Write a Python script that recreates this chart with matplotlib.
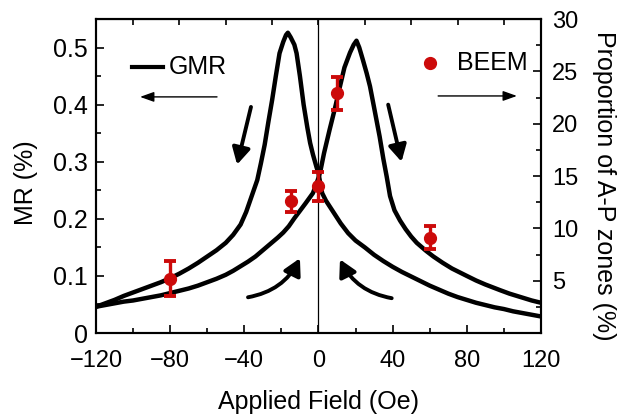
import matplotlib
matplotlib.use('Agg')
import matplotlib.pyplot as plt
from matplotlib.ticker import MultipleLocator, FixedLocator

plt.rcParams['font.family'] = ['Liberation Sans', 'DejaVu Sans']

# ---------------- data ----------------
# GMR, field swept from +120 to -120 Oe (peak at negative field)
field_down = [-120, -115, -110, -105, -100, -95, -90, -85, -80, -75, -70, -65, -60,
              -55, -50, -46, -42, -39, -36, -33, -31, -29, -27, -25, -23, -21, -19,
              -17.5, -16.5, -15, -13, -11.8, -10, -8, -6, -4.5, -3, -1, 0, 1, 2, 4,
              6, 9, 12, 16, 20, 25, 30, 35, 40, 45, 50, 55, 60, 65, 70, 75, 80, 85,
              90, 95, 100, 105, 110, 115, 120]
mr_down = [0.046, 0.052, 0.058, 0.065, 0.071, 0.077, 0.083, 0.089, 0.096, 0.104,
           0.113, 0.123, 0.134, 0.145, 0.158, 0.172, 0.190, 0.212, 0.240, 0.268,
           0.298, 0.330, 0.370, 0.408, 0.450, 0.490, 0.510, 0.522, 0.526, 0.518,
           0.505, 0.490, 0.450, 0.400, 0.360, 0.333, 0.313, 0.290, 0.280, 0.262,
           0.245, 0.232, 0.222, 0.207, 0.192, 0.175, 0.162, 0.150, 0.137, 0.126,
           0.116, 0.107, 0.099, 0.091, 0.083, 0.076, 0.069, 0.063, 0.058, 0.053,
           0.049, 0.045, 0.042, 0.038, 0.035, 0.032, 0.029]

# GMR, field swept from -120 to +120 Oe (peak at positive field)
field_up = [-120, -115, -110, -105, -100, -95, -90, -85, -80, -75, -70, -65, -60,
            -55, -50, -46, -42, -38, -34, -30, -26, -22, -19, -16, -13, -10, -7, -5,
            -3, -1, 0, 1, 3, 6, 9, 11.6, 14, 17, 19, 20.5, 22, 24, 26, 27.8, 30, 33,
            35, 36.8, 38.6, 41, 44, 47, 50, 53, 58, 62, 67, 72, 80, 85, 90, 98, 103,
            110, 115, 120]
mr_up = [0.046, 0.049, 0.052, 0.055, 0.057, 0.060, 0.063, 0.066, 0.070, 0.074,
         0.078, 0.083, 0.089, 0.095, 0.102, 0.109, 0.117, 0.125, 0.134, 0.145,
         0.156, 0.167, 0.176, 0.187, 0.201, 0.214, 0.227, 0.236, 0.245, 0.262,
         0.272, 0.283, 0.315, 0.356, 0.395, 0.432, 0.465, 0.491, 0.505, 0.512,
         0.500, 0.478, 0.455, 0.432, 0.395, 0.344, 0.305, 0.274, 0.240, 0.215,
         0.197, 0.182, 0.169, 0.158, 0.144, 0.134, 0.123, 0.113, 0.100, 0.092,
         0.085, 0.075, 0.069, 0.062, 0.057, 0.053]

# BEEM: proportion of A-P zones (%)
beem_field = [-80, -15, 0, 10, 60]
beem_prop = [5.2, 12.6, 14.0, 22.9, 9.1]
beem_err = [1.7, 1.0, 1.4, 1.6, 1.1]

x_ticks = [-120, -80, -40, 0, 40, 80, 120]
x_tick_labels = ['\u2212120', '\u221280', '\u221240', '0', '40', '80', '120']
top_ticks = [-100, -75, -50, -25, 0, 25, 50, 75, 100]
mr_ticks = [0, 0.1, 0.2, 0.3, 0.4, 0.5]
mr_tick_labels = ['0', '0.1', '0.2', '0.3', '0.4', '0.5']
prop_ticks = [5, 10, 15, 20, 25, 30]
prop_tick_labels = ['5', '10', '15', '20', '25', '30']

RED = '#cc0a0a'

# ---------------- figure ----------------
fig = plt.figure(figsize=(6.2, 4.18), dpi=100)
ax = fig.add_axes([0.1548, 0.2033, 0.7177, 0.7512])
ax.set_xlim(-120, 120)
ax.set_ylim(0, 0.55)

ax.axvline(0, color='black', lw=0.9, zorder=1)
ax.plot(field_down, mr_down, color='black', lw=3.2, zorder=3, solid_joinstyle='round')
ax.plot(field_up, mr_up, color='black', lw=3.2, zorder=3, solid_joinstyle='round')

ax.xaxis.set_major_locator(FixedLocator(x_ticks))
ax.set_xticklabels(x_tick_labels)
ax.xaxis.set_minor_locator(MultipleLocator(20))
ax.yaxis.set_major_locator(FixedLocator(mr_ticks))
ax.set_yticklabels(mr_tick_labels)
ax.yaxis.set_minor_locator(MultipleLocator(0.05))
ax.tick_params(which='major', direction='in', length=6, width=1.2)
ax.tick_params(which='minor', direction='in', length=3.5, width=1.2)
ax.tick_params(axis='x', which='both', top=False, pad=12, labelsize=17)
ax.tick_params(axis='y', which='both', right=False, pad=6, labelsize=18)

secx = ax.secondary_xaxis('top')
secx.xaxis.set_major_locator(FixedLocator(top_ticks))
secx.tick_params(direction='in', length=4, width=1.2, labeltop=False)

for sp in ax.spines.values():
    sp.set_linewidth(1.5)

ax.set_xlabel('Applied Field (Oe)', fontsize=18)
ax.xaxis.set_label_coords(0.5, -0.18)
ax.set_ylabel('MR (%)', fontsize=18)
ax.yaxis.set_label_coords(-0.13, 0.48)

# legend-like annotations (GMR, left)
ax.plot([0.081, 0.151], [0.847, 0.847], transform=ax.transAxes, color='black', lw=3)
ax.text(0.164, 0.847, 'GMR', transform=ax.transAxes, va='center', ha='left', fontsize=18)
ax.annotate('', xy=(0.099, 0.752), xytext=(0.272, 0.752), xycoords='axes fraction',
            arrowprops=dict(arrowstyle='-|>,head_length=0.7,head_width=0.25',
                            color='black', lw=1.0, mutation_scale=12, shrinkA=0, shrinkB=0))

# sweep arrows
big = '-|>,head_length=0.55,head_width=0.3'
ax.annotate('', xy=(-43.9, 0.295), xytext=(-36.4, 0.396),
            arrowprops=dict(arrowstyle=big, color='black', lw=2.8, mutation_scale=18,
                            shrinkA=0, shrinkB=0))
ax.annotate('', xy=(44.8, 0.300), xytext=(37.6, 0.400),
            arrowprops=dict(arrowstyle=big, color='black', lw=2.8, mutation_scale=18,
                            shrinkA=0, shrinkB=0))
ax.annotate('', xy=(-10, 0.131), xytext=(-38, 0.0626),
            arrowprops=dict(arrowstyle=big, color='black', lw=2.8, mutation_scale=18,
                            shrinkA=0, shrinkB=0, connectionstyle='arc3,rad=0.25'))
ax.annotate('', xy=(11.6, 0.129), xytext=(39.5, 0.061),
            arrowprops=dict(arrowstyle=big, color='black', lw=2.8, mutation_scale=18,
                            shrinkA=0, shrinkB=0, connectionstyle='arc3,rad=-0.25'))

# ---------------- right axis ----------------
ax2 = ax.twinx()
ax2.set_ylim(0, 30)
ax2.errorbar(beem_field, beem_prop, yerr=beem_err, fmt='o', color=RED, ms=8.5,
             elinewidth=2.4, capsize=4, capthick=2.8, zorder=5)
ax2.yaxis.set_major_locator(FixedLocator(prop_ticks))
ax2.set_yticklabels(prop_tick_labels)
ax2.yaxis.set_minor_locator(MultipleLocator(2.5))
ax2.tick_params(which='major', direction='in', length=6, width=1.2, labelsize=17, pad=8)
ax2.tick_params(which='minor', direction='in', length=3.5, width=1.2)
for sp in ax2.spines.values():
    sp.set_linewidth(1.5)
ax2.set_ylabel('Proportion of A-P zones (%)', fontsize=18, rotation=270, va='bottom')
ax2.yaxis.set_label_coords(1.115, 0.47)

ax2.plot([0.751], [0.86], 'o', transform=ax2.transAxes, color=RED, ms=8.5)
ax2.text(0.811, 0.86, 'BEEM', transform=ax2.transAxes, va='center', ha='left', fontsize=18)
ax2.annotate('', xy=(0.946, 0.755), xytext=(0.769, 0.755), xycoords='axes fraction',
             arrowprops=dict(arrowstyle='-|>,head_length=0.7,head_width=0.25',
                             color='black', lw=1.0, mutation_scale=12, shrinkA=0, shrinkB=0))

fig.savefig('out.png', dpi=100)
